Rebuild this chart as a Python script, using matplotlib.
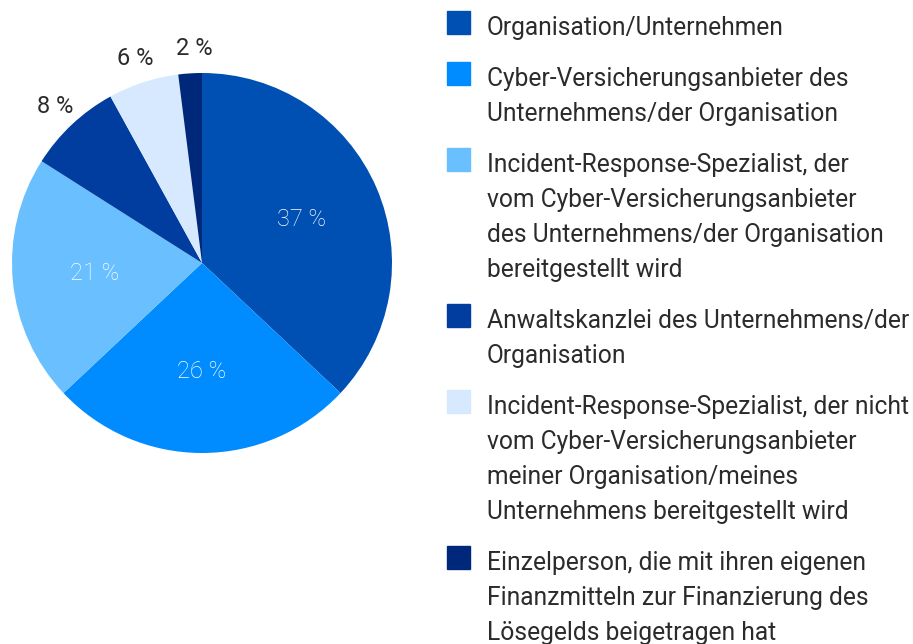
import matplotlib.pyplot as plt
import numpy as np
from matplotlib.patches import Rectangle

# data
categories = [
    "Organisation/Unternehmen",
    "Cyber-Versicherungsanbieter des\nUnternehmens/der Organisation",
    "Incident-Response-Spezialist, der\nvom Cyber-Versicherungsanbieter\ndes Unternehmens/der Organisation\nbereitgestellt wird",
    "Anwaltskanzlei des Unternehmens/der\nOrganisation",
    "Incident-Response-Spezialist, der nicht\nvom Cyber-Versicherungsanbieter\nmeiner Organisation/meines\nUnternehmens bereitgestellt wird",
    "Einzelperson, die mit ihren eigenen\nFinanzmitteln zur Finanzierung des\nLösegelds beigetragen hat",
]
values = [37, 26, 21, 8, 6, 2]
colors = ["#0050b4", "#008cff", "#6abfff", "#003d9f", "#d6e9ff", "#00287a"]
inside = [True, True, True, False, False, False]

plt.rcParams['font.family'] = ['Roboto', 'DejaVu Sans']
TEXT = "#2b2b2b"

W, H = 913, 644
fig = plt.figure(figsize=(W / 100, H / 100), dpi=100)

# pie: centre (202, 263), radius 190 px
cx, cy, r = 202, 263, 190
ax = fig.add_axes([(cx - r) / W, (H - cy - r) / H, 2 * r / W, 2 * r / H])
wedges, _ = ax.pie(values, colors=colors, startangle=90, counterclock=False,
                   radius=1, wedgeprops=dict(linewidth=0))
ax.set_xlim(-1, 1)
ax.set_ylim(-1, 1)
ax.set_aspect("equal")
ax.axis("off")

for w, v, ins in zip(wedges, values, inside):
    mid = np.deg2rad((w.theta1 + w.theta2) / 2)
    d = 0.57 if ins else 1.13
    x, y = d * np.cos(mid), d * np.sin(mid)
    if v == 2:
        x += 0.03
    ax.text(x, y, f"{v} %", ha="center", va="center", fontsize=17,
            fontweight="light" if ins else "normal",
            color="white" if ins else TEXT, clip_on=False)

# legend drawn by hand
line_h = 35
gap = 16
y = 25
for c, lab in zip(colors, categories):
    n = lab.count("\n") + 1
    fig.patches.append(Rectangle((447 / W, 1 - (y + 9) / H), 23 / W, 23 / H,
                                 transform=fig.transFigure, color=c))
    for k, part in enumerate(lab.split("\n")):
        fig.text(487 / W, 1 - (y + 3 + k * line_h) / H, part, ha="left", va="center",
                 fontsize=17.7, color=TEXT)
    y += n * line_h + gap

fig.savefig("out.png", dpi=100)
